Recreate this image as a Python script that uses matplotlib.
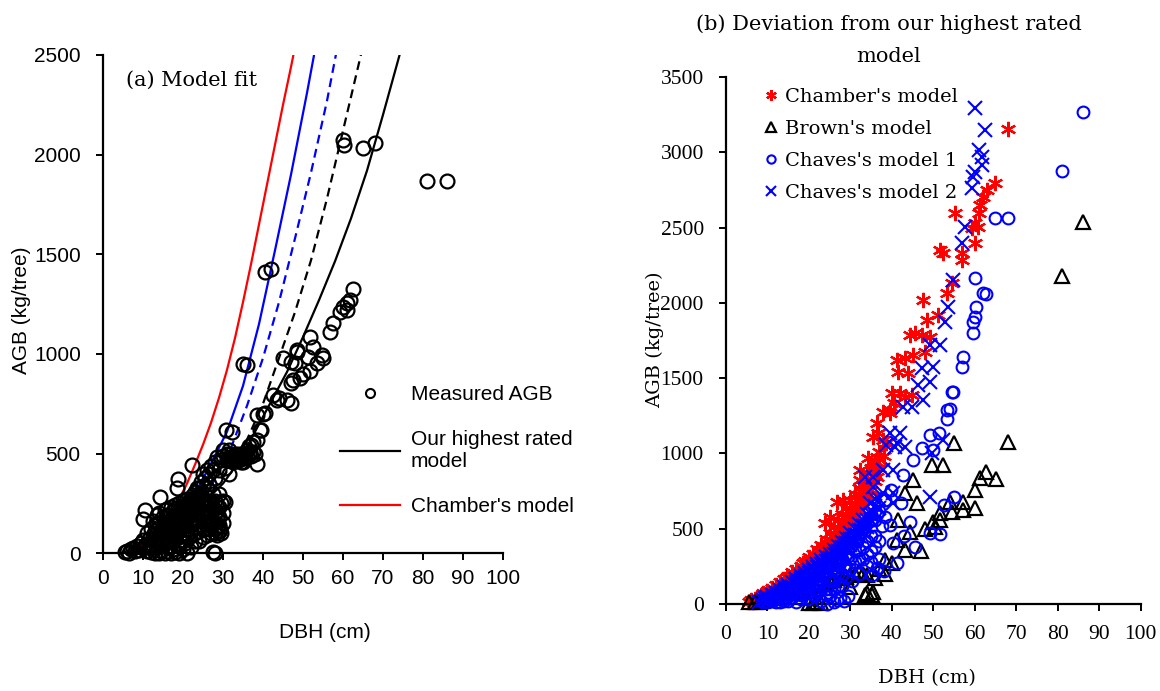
import matplotlib
matplotlib.use('Agg')
import matplotlib.pyplot as plt
from matplotlib.lines import Line2D

# ---------------- Panel (a): measured AGB ----------------
measured_dbh = [
    5.5, 6.0, 6.5, 7.0, 7.5, 8.0, 8.5, 9.0, 9.5, 10.0, 10.0, 10.1, 10.5, 10.5, 11.0,
    11.0, 11.5, 11.5, 12.0, 12.0, 12.0, 12.5, 12.5, 13.0, 13.0, 13.0, 13.5, 13.5, 13.5, 14.0,
    14.0, 14.0, 14.25, 14.5, 14.5, 15.0, 15.0, 15.0, 15.5, 15.5, 15.5, 16.0, 16.0, 16.0, 16.0,
    16.5, 16.5, 16.5, 17.0, 17.0, 17.0, 17.0, 17.5, 17.5, 17.5, 18.0, 18.0, 18.0, 18.0, 18.5,
    18.5, 18.5, 18.8, 19.0, 19.0, 19.0, 19.0, 19.5, 19.5, 19.5, 20.0, 20.0, 20.0, 20.0, 20.0,
    20.5, 20.5, 20.5, 21.0, 21.0, 21.0, 21.0, 21.5, 21.5, 21.5, 22.0, 22.0, 22.2, 22.0, 22.5,
    22.5, 22.5, 23.0, 23.0, 23.0, 23.0, 23.5, 23.5, 23.5, 24.0, 24.0, 24.0, 24.0, 24.5, 24.5,
    24.5, 25.0, 25.0, 25.0, 25.0,
    25.5, 25.5, 25.5, 26.0, 26.0, 26.0, 26.0, 26.5, 26.5, 26.5, 27.0, 27.0, 27.0, 27.5, 27.5,
    27.5, 28.0, 28.0, 28.0, 28.0, 28.4, 28.5, 28.5, 28.9, 29.0, 29.0, 29.3, 29.5, 29.5, 30.0,
    30.0, 30.0, 30.5, 30.75, 30.9,
    31.0, 31.5, 32.0, 32.2, 32.5, 33.0, 33.4, 33.5, 34.0, 34.5, 35.0, 35.1, 35.1, 35.5, 36.0,
    36.0, 36.5, 36.75, 37.1, 37.5, 38.0, 38.4, 38.4, 38.4, 39.2, 39.5, 40.0, 40.5,
    40.5, 42.0, 42.6, 43.4, 44.0, 45.1, 45.9, 47.0, 47.1, 47.6, 46.9, 48.4, 48.4, 48.0, 49.25,
    50.0, 51.3, 51.75, 51.75, 52.6, 53.4, 54.7, 55.0, 56.75, 57.6, 59.25, 60.0, 60.9, 61.1, 61.75,
    62.6, 60.1, 60.25, 65.1, 68.0, 81.0, 86.0,
    14.5, 16.5, 18.0, 19.0, 20.5, 21.5, 22.5, 23.5, 24.5, 25.5, 26.5, 27.5, 29.0, 30.5, 31.5,
    12.5, 13.0, 13.5, 14.0, 14.5, 15.0, 15.5, 16.0, 16.0, 12.0, 13.0,
    16.5, 17.0, 17.5, 18.0, 18.0, 18.5, 19.0, 19.0, 19.5, 20.0, 20.0, 20.0,
    20.5, 21.0, 21.0, 21.5, 22.0, 22.0, 22.5, 23.0, 23.0, 23.5, 24.0, 24.0, 24.5, 25.0, 25.0,
    25.0, 25.5, 26.0, 26.0, 26.5, 26.5, 27.0, 27.0, 27.5, 27.5, 28.0, 28.0, 28.5, 29.0, 29.0,
    29.5, 30.0, 30.0, 28.0, 28.5, 29.0,
    31.0, 31.5, 32.0, 32.5, 33.0, 33.5, 34.0, 34.5, 35.0, 35.5, 36.0, 36.5, 37.0, 37.5,
]
measured_agb = [
    8, 12, 4, 20, 28, 10, 35, 15, 50, 25, 65, 174, 216, 40, 100,
    10, 70, 30, 120, 5, 50, 90, 20, 140, 0, 60, 190, 100, 30, 0,
    75, 150, 283, 110, 10, 40, 180, 130, 215, 0, 80, 220, 60, 150, 10,
    110, 30, 190, 0, 160, 230, 70, 120, 210, 20, 180, 90, 240, 5, 326,
    140, 50, 375, 200, 110, 250, 0, 160, 60, 230, 190, 130, 260, 20, 90,
    170, 240, 50, 210, 120, 270, 0, 150, 230, 80, 190, 260, 442, 110, 220,
    150, 290, 240, 180, 100, 310, 200, 270, 130, 230, 330, 160, 60, 290, 190,
    360, 240, 340, 120, 400,
    180, 300, 380, 90, 230, 420, 150, 120, 350, 260, 440, 200, 100, 7, 300,
    160, 0, 460, 120, 380, 485, 232, 90, 132, 420, 180, 115, 470, 250, 260,
    490, 520, 258, 617, 468,
    500, 480, 470, 610, 490, 470, 468, 500, 480, 460, 490, 485, 952, 500, 945,
    520, 540, 510, 543, 560, 500, 450, 568, 693, 618, 620, 700, 703,
    1411, 1426, 793, 769, 780, 978, 769, 960, 752, 869, 853, 1020, 1012, 953, 878,
    900, 987, 913, 1087, 1037, 953, 995, 980, 1111, 1154, 1212, 1237, 1254, 1220, 1271,
    1324, 2073, 2048, 2032, 2057, 1868, 1868,
    60, 140, 150, 80, 140, 190, 250, 330, 240, 260, 200, 230, 300, 430, 400,
    160, 75, 150, 200, 40, 100, 150, 190, 100, 30, 110,
    70, 110, 180, 150, 220, 100, 180, 40, 200, 220, 160, 60,
    100, 180, 90, 260, 140, 30, 270, 200, 60, 240, 110, 290, 240, 200, 160,
    80, 260, 190, 330, 180, 400, 260, 160, 220, 420, 200, 260, 180, 230, 140,
    100, 200, 150, 100, 130, 110,
    470, 520, 500, 460, 490, 480, 470, 500, 460, 480, 490, 500, 490, 510,
]

# Model curves in panel (a)
best_line_dbh = [6, 10, 14, 18, 22, 26, 30, 34, 38, 42, 46, 50, 54, 58, 62, 66, 70, 74, 75]
best_line_agb = [5, 30, 70, 125, 195, 270, 350, 460, 610, 760, 910, 1085, 1270, 1465, 1680,
                 1920, 2200, 2490, 2560]
black_dashed_dbh = [8, 12, 16, 20, 24, 28, 32, 36, 40, 44, 48, 52, 56, 60, 64, 65.5]
black_dashed_agb = [8, 35, 80, 145, 225, 330, 440, 570, 750, 980, 1210, 1470, 1780, 2120,
                    2460, 2590]
blue_dashed_dbh = [8, 12, 16, 20, 24, 28, 32, 36, 40, 44, 48, 52, 56, 58.5]
blue_dashed_agb = [10, 40, 90, 160, 250, 370, 530, 740, 980, 1260, 1580, 1910, 2270, 2530]
blue_solid_dbh = [7, 11, 15, 19, 23, 27, 31, 35, 39, 43, 47, 51, 53.5]
blue_solid_agb = [10, 45, 105, 190, 300, 450, 610, 840, 1150, 1520, 1900, 2310, 2580]
chamber_line_dbh = [7, 9, 11, 13, 15, 17, 19, 21, 23, 25, 27, 29, 31, 33, 35, 37, 39, 41,
                    43, 45, 47, 48.5]
chamber_line_agb = [12, 35, 65, 105, 150, 205, 270, 350, 445, 545, 655, 780, 920, 1080,
                    1260, 1450, 1650, 1850, 2050, 2250, 2440, 2590]

# ---------------- Panel (b): model estimates ----------------
chamber_dbh = [
    5.5, 6.0, 6.5, 7.0, 7.5, 8.0, 8.5, 9.0, 9.0, 9.5, 10.0, 10.0, 10.5, 11.0, 11.0, 11.5,
    12.0, 12.0, 12.5, 13.0, 13.0, 13.5, 14.0, 14.0, 14.6, 14.5, 15.0, 15.0, 15.5, 16.0, 16.0,
    16.5, 17.0, 17.0, 17.5, 18.0, 18.0, 18.6, 18.5, 19.0, 19.0, 19.5, 20.0, 20.0, 20.5, 21.0,
    21.0, 21.5, 22.0, 22.0, 22.7, 22.5, 23.0, 23.0, 23.5, 23.9, 24.0, 24.0, 24.5, 25.0, 25.0,
    25.1, 25.5, 26.0, 26.0, 26.5, 26.7, 27.0, 27.0, 27.5, 28.0, 28.0, 28.3, 28.5, 28.9, 29.0,
    29.0, 29.5, 30.0, 30.0, 30.5, 31.0, 31.0, 31.5, 32.0, 32.0, 32.3, 32.3, 32.5, 33.0, 33.0,
    33.5, 33.9, 33.9, 34.0, 34.3, 34.5, 35.0, 35.0, 35.5, 35.5, 36.0, 36.0, 36.3, 36.3, 36.3,
    36.7, 37.0, 37.0, 37.9, 37.9, 38.0, 38.7,
    39.5, 39.5, 40.0, 40.5, 41.2, 41.5, 42.0, 43.2, 43.2, 44.0, 44.4, 44.8, 45.2, 45.6, 47.2,
    47.6, 48.0, 48.4, 49.2, 51.1, 51.6, 52.4, 53.2, 54.4, 55.2, 56.8, 57.0, 59.2, 60.0, 60.0,
    60.8, 60.9, 61.2, 62.0, 62.9, 64.9, 68.1,
    20.0, 22.0, 24.0, 26.0, 28.0, 30.0, 32.0, 34.0, 36.0, 37.0, 25.0, 27.0, 29.0, 31.0, 33.0,
    35.0,
]
chamber_agb = [
    10, 25, 15, 30, 40, 35, 55, 50, 71, 65, 60, 85, 75, 80, 105, 95,
    95, 125, 110, 110, 145, 130, 125, 165, 181, 140, 140, 185, 160, 160, 210,
    180, 175, 235, 200, 195, 255, 270, 220, 215, 285, 245, 235, 310, 270, 255,
    335, 290, 280, 365, 359, 310, 300, 395, 340, 536, 330, 430, 370, 360, 470,
    580, 410, 400, 510, 450, 680, 430, 560, 490, 460, 600, 691, 530, 425, 500,
    640, 570, 540, 690, 610, 580, 730, 650, 620, 770, 824, 890, 690, 660, 800,
    730, 868, 691, 760, 967, 800, 760, 900, 1111, 850, 820, 950, 1200, 845, 978,
    1134, 900, 1010, 1277, 1089, 980, 1067,
    1267, 1288, 1399, 1333, 1620, 1543, 1399, 1377, 1632, 1532, 1787, 1388, 1654, 1798, 1787,
    2019, 1676, 1886, 1776, 1920, 2351, 2329, 2063, 2130, 2595, 2285, 2329, 2495, 2528, 2396,
    2506, 2595, 2650, 2705, 2750, 2794, 3153,
    270, 320, 380, 460, 530, 620, 700, 820, 900, 960, 420, 500, 570, 660, 740,
    830,
]

brown_dbh = [
    5.5, 7.0, 8.0, 9.0, 10.0, 11.0, 12.0, 13.0, 13.8, 14.5, 15.0, 16.0, 17.0, 18.0, 19.0,
    20.0, 20.5, 21.0, 22.0, 22.5, 23.0, 24.0, 25.0, 26.0, 27.0, 28.0, 29.0, 29.9, 30.0, 31.0,
    32.0, 33.0, 33.5, 33.9, 34.1, 35.1, 35.5, 36.0, 37.0, 38.4, 38.4, 40.0, 41.2, 41.5, 43.2,
    43.2, 44.4, 45.2, 46.0, 47.0, 48.0, 49.6, 50.0, 50.4, 51.6, 51.6, 52.4, 54.0, 54.4, 55.0,
    57.2, 57.2, 60.0, 60.0, 61.2, 62.7, 65.0, 68.0, 81.0, 86.0,
]
brown_agb = [
    10, 12, 15, 20, 30, 40, 60, 100, 93, 110, 70, 80, 90, 100, 110,
    5, 120, 8, 10, 130, 5, 140, 150, 160, 170, 175, 180, 115, 190, 200,
    210, 200, 60, 70, 193, 60, 80, 175, 230, 197, 292, 270, 425, 558, 359,
    735, 480, 824, 669, 350, 500, 923, 547, 513, 558, 602, 923, 680, 613, 1067,
    680, 624, 635, 757, 835, 879, 830, 1078, 2176, 2537,
]

chaves1_dbh = [
    9.0, 10.0, 10.5, 11.0, 11.5, 12.0, 12.5, 13.0, 13.0, 13.5, 14.0, 14.0, 14.5, 15.0, 15.0,
    15.5, 16.0, 16.0, 16.5, 17.0, 17.0, 17.5, 17.5, 18.0, 18.0, 18.5, 19.0, 19.0, 19.5, 20.0,
    20.0, 20.5, 20.5, 21.0, 21.0, 21.5, 22.0, 22.0, 22.5, 23.0, 23.0, 23.5, 23.5, 24.0, 24.0,
    24.3, 24.5, 25.0, 25.0, 25.5, 26.0, 26.0, 26.0, 26.7, 26.5, 27.0, 27.0, 27.5, 27.5, 28.0,
    28.0, 28.5, 28.5, 29.0, 29.0, 29.5, 29.5, 30.0, 30.0, 30.5, 31.0, 31.0, 32.0, 32.0, 32.5,
    33.0, 33.5, 34.0, 34.0, 35.0, 35.0, 35.1, 36.0, 36.3, 36.5, 37.0, 37.5, 38.3, 38.3, 38.0,
    39.5, 39.9, 40.3, 41.2, 42.3, 42.8, 43.0, 44.4, 45.2, 45.6, 47.2, 49.2, 49.2, 49.9, 51.4,
    51.6, 52.6, 53.2, 53.3, 53.9, 54.4, 54.7, 55.0, 56.8, 57.2, 59.6, 59.6, 60.0, 60.4, 60.0,
    61.9, 62.6, 64.9, 68.1, 81.0, 86.0,
    12.0, 14.0, 15.0, 16.0, 17.0, 18.0, 18.5, 19.0, 19.5, 20.0, 20.0, 21.0, 21.0, 21.5, 22.0,
    22.0, 22.5, 23.0, 23.0, 24.0, 24.0, 24.5, 25.0, 25.0, 25.5, 26.0, 26.0, 26.5, 27.0, 27.0,
    27.5, 28.0, 28.0, 28.5, 29.0, 29.0, 29.5, 30.0, 30.0, 30.5, 31.0, 31.5, 32.0, 32.0, 33.0,
    33.0, 34.0, 34.0, 35.0, 35.0, 36.0, 36.0, 37.0, 37.0,
]
chaves1_agb = [
    10, 15, 30, 20, 40, 30, 55, 15, 45, 70, 35, 85, 60, 20, 100,
    75, 45, 120, 90, 10, 140, 65, 110, 30, 160, 130, 80, 180, 150, 40,
    200, 110, 170, 60, 220, 140, 90, 240, 190, 20, 260, 120, 210, 60, 280,
    0, 170, 100, 300, 230, 10, 150, 320, 27, 260, 200, 340, 40, 290, 120,
    370, 20, 250, 180, 400, 50, 320, 230, 430, 150, 280, 460, 200, 360, 480,
    300, 520, 250, 420, 350, 560, 193, 450, 237, 600, 300, 520, 691, 580, 220,
    525, 757, 403, 270, 669, 857, 450, 547, 956, 381, 1034, 1122, 469, 1023, 1134,
    465, 657, 1288, 1227, 1293, 1410, 1410, 709, 1576, 1643, 1798, 1875, 1908, 1975, 2163,
    2063, 2061, 2562, 2562, 2877, 3265,
    10, 20, 50, 80, 100, 60, 90, 120, 30, 80, 150, 100, 180, 50, 130,
    200, 90, 150, 230, 100, 200, 250, 50, 150, 270, 100, 220, 300, 120, 260,
    350, 200, 300, 380, 250, 330, 410, 300, 380, 450, 350, 420, 300, 450, 380,
    500, 330, 540, 280, 450, 380, 560, 420, 620,
]

chaves2_dbh = [
    8.0, 9.0, 9.5, 10.0, 10.0, 10.5, 11.0, 11.0, 11.5, 12.0, 12.0, 12.5, 13.0, 13.0, 13.5,
    14.0, 14.0, 14.5, 15.0, 15.0, 15.5, 16.0, 16.0, 16.5, 17.0, 17.0, 17.5, 18.0, 18.0, 18.5,
    19.0, 19.0, 19.5, 20.0, 20.0, 20.5, 21.0, 21.0, 21.5, 22.0, 22.0, 22.5, 23.0, 23.0, 23.5,
    24.0, 24.0, 24.5, 25.0, 25.0, 25.5, 26.0, 26.0, 26.5, 27.0, 27.0, 27.5, 28.0, 28.0, 28.5,
    29.0, 29.0, 29.5, 30.0, 30.0, 30.5, 31.0, 31.0, 31.5, 32.0, 32.0, 32.5, 33.0, 33.0, 33.5,
    33.5, 34.0, 34.0, 34.7, 35.0, 35.5, 35.5, 36.0, 36.0, 37.0, 37.9, 37.9, 38.7, 39.5, 40.3,
    40.3, 40.3, 40.8, 41.2, 42.0, 42.8, 43.2, 44.8, 46.4, 47.2, 47.6, 49.2, 49.2, 49.2, 49.6,
    50.0, 51.6, 52.4, 52.8, 53.6, 54.8, 56.8, 57.6, 59.2, 59.6, 60.0, 60.0, 60.9, 61.7, 61.7,
    62.5,
    18.0, 20.0, 22.0, 24.0, 26.0, 28.0, 30.0, 32.0, 34.0, 35.0, 36.0, 37.0, 25.0, 27.0, 29.0,
    31.0, 33.0, 23.0, 21.0, 19.0, 17.0, 15.0,
]
chaves2_agb = [
    15, 25, 40, 20, 45, 35, 40, 60, 50, 55, 75, 65, 70, 90, 80,
    85, 110, 95, 100, 125, 115, 115, 145, 130, 130, 165, 150, 150, 185, 170,
    170, 205, 190, 185, 225, 205, 205, 245, 225, 220, 265, 245, 240, 290, 270,
    260, 310, 285, 280, 335, 305, 300, 360, 330, 320, 385, 355, 345, 410, 380,
    370, 440, 405, 395, 470, 430, 420, 500, 460, 450, 530, 490, 480, 560, 845,
    520, 510, 600, 669, 560, 779, 845, 600, 700, 640, 735, 890, 1056, 1134, 669,
    735, 890, 1045, 1067, 1134, 1310, 1045, 1310, 1455, 1565, 1355, 713, 1476, 1720, 1001,
    1576, 1720, 1089, 1875, 1975, 2152, 2396, 2506, 2761, 2838, 2871, 3292, 3015, 2971, 2916,
    3148,
    165, 205, 243, 285, 330, 378, 432, 490, 555, 600, 650, 700, 308, 352, 405,
    460, 520, 265, 225, 188, 148, 112,
]

x_ticks = [0, 10, 20, 30, 40, 50, 60, 70, 80, 90, 100]
left_y_ticks = [0, 500, 1000, 1500, 2000, 2500]
right_y_ticks = [0, 500, 1000, 1500, 2000, 2500, 3000, 3500]

RED = '#FF0000'
BLUE = '#0000FF'
SANS = 'Liberation Sans'
SERIF_TXT = 'DejaVu Serif'
SERIF_NUM = 'Liberation Serif'

W, H = 1160, 691
fig = plt.figure(figsize=(W / 100, H / 100), dpi=100)


def fx(px):
    return px / W


def fy(py):
    return 1 - py / H


axL = fig.add_axes([fx(103), fy(553.3), 400 / W, (553.3 - 55) / H])
axR = fig.add_axes([fx(726), fy(604), 414.7 / W, (604 - 77) / H])

for ax in (axL, axR):
    for s in ('top', 'right'):
        ax.spines[s].set_visible(False)
    for s in ('left', 'bottom'):
        ax.spines[s].set_linewidth(1.6)
    ax.tick_params(direction='out', length=5, width=1.4, colors='black')

# ----- Panel (a) -----
dash = (0, (4, 2.5))
axL.plot(chamber_line_dbh, chamber_line_agb, color=RED, lw=1.6, zorder=2)
axL.plot(blue_solid_dbh, blue_solid_agb, color=BLUE, lw=1.6, zorder=2)
axL.plot(blue_dashed_dbh, blue_dashed_agb, color=BLUE, lw=1.6, ls=dash, zorder=2)
axL.plot(black_dashed_dbh, black_dashed_agb, color='black', lw=1.6, ls=dash, zorder=2)
axL.plot(best_line_dbh, best_line_agb, color='black', lw=1.6, zorder=2)
axL.plot(measured_dbh, measured_agb, ls='none', marker='o', ms=10, mfc='none',
         mec='black', mew=1.6, zorder=3, clip_on=False)

axL.set_xlim(0, 100)
axL.set_ylim(0, 2500)
axL.set_xticks(x_ticks)
axL.set_yticks(left_y_ticks)
axL.tick_params(axis='x', pad=6, labelsize=15)
axL.tick_params(axis='y', pad=11, labelsize=15)
for lbl in axL.get_xticklabels() + axL.get_yticklabels():
    lbl.set_fontfamily(SANS)

fig.text(fx(325), fy(632), 'DBH (cm)', family=SANS, fontsize=15, ha='center', va='center')
fig.text(fx(22), fy(310), 'AGB (kg/tree)', family=SANS, fontsize=15, ha='center',
         va='center', rotation=90)
fig.text(fx(126), fy(80), '(a) Model fit', family=SERIF_TXT, fontsize=15, ha='left', va='center')

handlesL = [
    Line2D([], [], ls='none', marker='o', ms=6.5, mfc='none', mec='black', mew=1.5),
    Line2D([], [], color='black', lw=1.6),
    Line2D([], [], color=RED, lw=1.6),
]
labelsL = ['Measured AGB', 'Our highest rated\nmodel', "Chamber's model"]
axL.legend(handlesL, labelsL, loc='upper left', bbox_to_anchor=(fx(340), fy(385)),
           bbox_transform=fig.transFigure, frameon=False,
           prop={'family': SANS, 'size': 15}, handlelength=2.9, handletextpad=0.5,
           borderpad=0, borderaxespad=0, labelspacing=1.25)

# ----- Panel (b) -----
axR.plot(chamber_dbh, chamber_agb, ls='none', marker=(6, 2, 0), ms=11, mec=RED, mfc=RED,
         mew=1.6, label="Chamber's model", clip_on=False, zorder=2)
axR.plot(brown_dbh, brown_agb, ls='none', marker='^', ms=9.5, mfc='none', mec='black',
         mew=1.6, label="Brown's model", clip_on=False, zorder=3)
axR.plot(chaves1_dbh, chaves1_agb, ls='none', marker='o', ms=8.5, mfc='none', mec=BLUE,
         mew=1.5, label="Chaves's model 1", clip_on=False, zorder=4)
axR.plot(chaves2_dbh, chaves2_agb, ls='none', marker='x', ms=10, mec=BLUE,
         mew=1.5, label="Chaves's model 2", clip_on=False, zorder=5)

axR.set_xlim(0, 100)
axR.set_ylim(0, 3500)
axR.set_xticks(x_ticks)
axR.set_yticks(right_y_ticks)
axR.tick_params(axis='x', pad=10, labelsize=15.5)
axR.tick_params(axis='y', pad=11, labelsize=15.5)
for lbl in axR.get_xticklabels() + axR.get_yticklabels():
    lbl.set_fontfamily(SERIF_NUM)

axR.legend(loc='upper left', bbox_to_anchor=(fx(763), fy(88)), bbox_transform=fig.transFigure,
           frameon=False, prop={'family': SERIF_TXT, 'size': 14}, handlelength=0.8,
           handletextpad=0.35, borderpad=0, borderaxespad=0, labelspacing=0.72,
           markerscale=0.7)

fig.text(fx(889), fy(40), '(b) Deviation from our highest rated\nmodel', family=SERIF_TXT,
         fontsize=15, ha='center', va='center', linespacing=1.9)
fig.text(fx(927), fy(678), 'DBH (cm)', family=SERIF_TXT, fontsize=14, ha='center', va='center')
fig.text(fx(655), fy(340), 'AGB (kg/tree)', family=SERIF_TXT, fontsize=14, ha='center',
         va='center', rotation=90)

fig.savefig('out.png', dpi=100)
